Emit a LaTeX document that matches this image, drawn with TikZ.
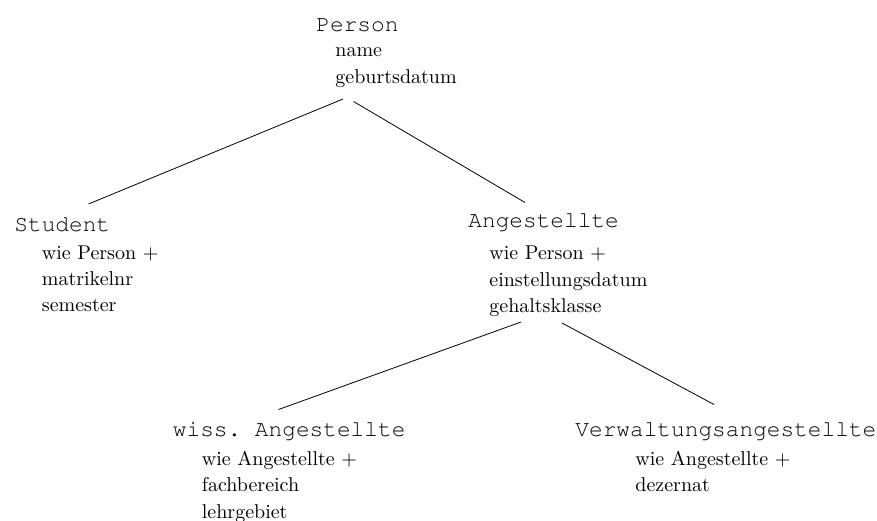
\documentclass[tikz,border=0pt]{standalone}
\usepackage[T1]{fontenc}
\usepackage{fontspec}
\usepackage{tikz}
\newcommand{\classfont}{\fontencoding{T1}\fontfamily{pcr}\selectfont}

\begin{document}
\begin{tikzpicture}[x=0.5pt,y=-0.5pt,
    classname/.style={anchor=base west,inner sep=0pt,font=\classfont\fontsize{11.4}{13}\selectfont},
    attr/.style={anchor=base west,inner sep=0pt}]
    \useasboundingbox (0,0) rectangle (877,520);
    % Person
    \node[classname] (person) at (316,31) {Person};
    \foreach \t [count=\k] in {name,geburtsdatum}
    {
      \node[attr] (person\k) at (335,29+27*\k) {\t};
    }
    % Student
    \node[classname] (student) at (14,231.5) {Student};
    \foreach \t [count=\k] in {wie Person +,matrikelnr,semester}
    {
      \node[attr] (student\k) at (41.5,233.5+26*\k) {\t};
    }
    % Angestellte
    \node[classname] (angest) at (468,227.5) {Angestellte};
    \foreach \t [count=\k] in {wie Person +,einstellungsdatum,gehaltsklasse}
    {
      \node[attr] (angest\k) at (489,233+26.5*\k) {\t};
    }
    % wiss. Angestellte
    \node[classname] (wiss) at (172.5,436.5) {wiss.\ Angestellte};
    \foreach \t [count=\k] in {wie Angestellte +,fachbereich,lehrgebiet}
    {
      \node[attr] (wiss\k) at (201.5,438.5+26.5*\k) {\t};
    }
    % Verwaltungsangestellte
    \node[classname] (verw) at (575,436.5) {Verwaltungsangestellte};
    \foreach \t [count=\k] in {wie Angestellte +,dezernat}
    {
      \node[attr] (verw\k) at (635,438.5+26.5*\k) {\t};
    }
    % line ends
    \coordinate (person-l) at (343,99);
    \coordinate (person-r) at (353.5,101.5);
    \coordinate (student-t) at (88.5,204);
    \coordinate (angest-t) at (525,202.5);
    \coordinate (angest-l) at (521,322);
    \coordinate (angest-r) at (562,323);
    \coordinate (wiss-t) at (278.5,409.5);
    \coordinate (verw-t) at (714,404.5);
    \draw (person-l) -- (student-t);
    \draw (person-r) -- (angest-t);
    \draw (angest-l) -- (wiss-t);
    \draw (angest-r) -- (verw-t);
  \end{tikzpicture}
\end{document}
